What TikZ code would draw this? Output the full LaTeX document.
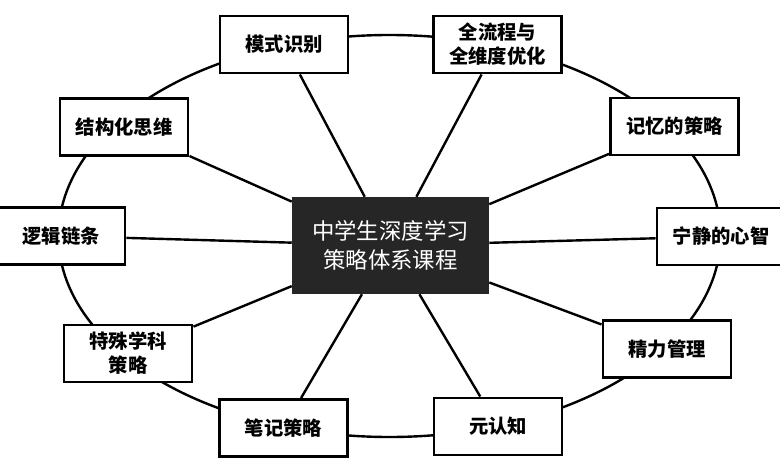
\documentclass[tikz,border=0pt]{standalone}
\usepackage{fontspec}
\newfontfamily\cjk{Noto Sans CJK SC}
\definecolor{coregray}{HTML}{262626}
\tikzset{
  topic/.style={draw=black, line width=2.2pt, fill=white, minimum width=96pt, minimum height=42.75pt,
    align=center, font=\cjk\bfseries\fontsize{14.5}{18}\selectfont},
  core/.style={fill=coregray, text=white, minimum width=147.75pt, minimum height=72.75pt,
    align=center, font=\cjk\fontsize{16.8}{21.75}\selectfont},
  link/.style={line width=1.8pt}
}
\begin{document}
\begin{tikzpicture}[x=0.75pt,y=0.75pt,yscale=-1,xscale=1]
\useasboundingbox (0,0) rectangle (780,470);

%Ellipse
\draw [line width=1.8pt] (389.5,236) ellipse (331 and 201);

% Centre
\node [core] (core) at (390.5,245.5) {中学生深度学习\\策略体系课程};

% Topics
\node [topic] (mode) at (284,44.5) {模式识别};
\node [topic] (flow) at (497.5,44.5) {全流程与\\全维度优化};
\node [topic] (memory) at (674.5,126.5) {记忆的策略};
\node [topic] (calm) at (721,236.5) {宁静的心智};
\node [topic] (energy) at (667,349) {精力管理};
\node [topic] (meta) at (498,426.5) {元认知};
\node [topic] (notes) at (283.5,428) {笔记策略};
\node [topic] (subject) at (128,353.5) {特殊学科\\策略};
\node [topic] (logic) at (61,236) {逻辑链条};
\node [topic] (struct) at (124,127) {结构化思维};

%Straight Lines
\foreach \n in {mode,flow,memory,calm,energy,meta,notes,subject,logic,struct}
  \draw [link] (core) -- (\n);

\end{tikzpicture}
\end{document}
